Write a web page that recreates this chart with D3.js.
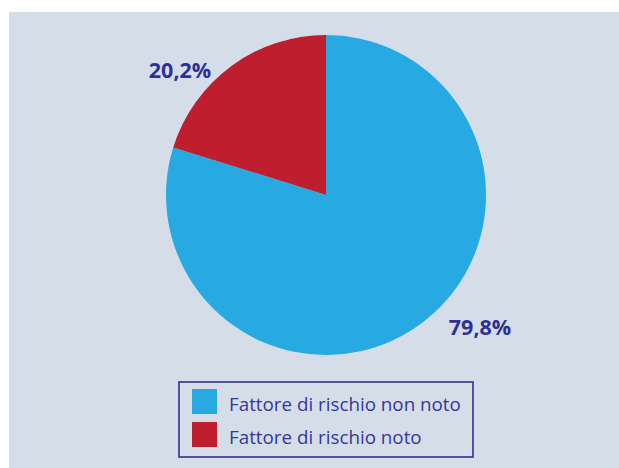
<!DOCTYPE html>
<html>
<head>
<meta charset="utf-8">
<script src="https://cdn.jsdelivr.net/npm/d3@7"></script>
<style>
  body { margin: 0; background: #fff; }
</style>
</head>
<body>
<script>
var categories = ["Fattore di rischio non noto", "Fattore di rischio noto"];
var values = [79.8, 20.2];
var valueLabels = ["79,8%", "20,2%"];
var colors = ["#27aae1", "#be1e2d"];

var svgWidth = 619;
var svgHeight = 468;
var textColor = "#2e3192";

var svg = d3.select("body")
    .append("svg")
    .attr("width", svgWidth)
    .attr("height", svgHeight);

// panel background
svg.append("rect")
    .attr("x", 9)
    .attr("y", 12)
    .attr("width", svgWidth - 9)
    .attr("height", svgHeight - 12)
    .attr("fill", "#d5dde9");

var cx = 326, cy = 195, radius = 160;

var pie = d3.pie().sort(null).value(d => d);
var arc = d3.arc().innerRadius(0).outerRadius(radius);

var pieGroup = svg.append("g")
    .attr("transform", `translate(${cx}, ${cy})`);

var arcs = pie(values);

pieGroup.selectAll("path")
    .data(arcs)
    .enter()
    .append("path")
    .attr("d", arc)
    .attr("fill", (d, i) => colors[i]);

// percentage labels outside the pie
var labelOffsets = [[154, 140], [-146, -117]];

pieGroup.selectAll(".pct")
    .data(arcs)
    .enter()
    .append("text")
    .attr("class", "pct")
    .attr("x", (d, i) => labelOffsets[i][0])
    .attr("y", (d, i) => labelOffsets[i][1])
    .attr("text-anchor", "middle")
    .attr("font-family", "'Open Sans', sans-serif")
    .attr("font-weight", "bold")
    .attr("font-size", 21.5)
    .attr("fill", textColor)
    .text((d, i) => valueLabels[i]);

// legend
var legend = svg.append("g")
    .attr("transform", "translate(179, 382)");

legend.append("rect")
    .attr("width", 294)
    .attr("height", 75)
    .attr("fill", "none")
    .attr("stroke", textColor)
    .attr("stroke-width", 1.6);

var items = legend.selectAll(".item")
    .data(categories)
    .enter()
    .append("g")
    .attr("class", "item")
    .attr("transform", (d, i) => `translate(13, ${7 + i * 33})`);

items.append("rect")
    .attr("width", 25)
    .attr("height", 25)
    .attr("fill", (d, i) => colors[i]);

items.append("text")
    .attr("x", 37)
    .attr("y", 22)
    .attr("font-family", "'Open Sans', sans-serif")
    .attr("font-size", 18.8)
    .attr("fill", "#35379a")
    .text(d => d);
</script>
</body>
</html>
